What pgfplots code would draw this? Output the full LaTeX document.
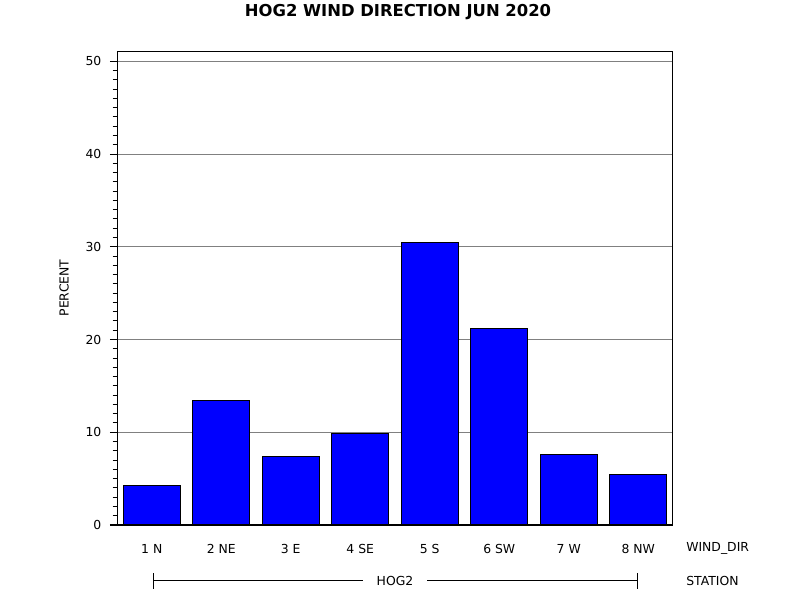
\documentclass[border=0pt]{standalone}
\usepackage{pgfplots}
\pgfplotsset{compat=1.18}
\usepackage{fontspec}
\setmainfont{DejaVu Sans}

\definecolor{gridgray}{RGB}{128,128,128}
\newcommand{\lblfont}{\fontsize{9.3}{11}\selectfont}

\begin{document}
\begin{tikzpicture}[x=1pt,y=1pt]
  % page = 800x600 px, 1px = 0.75pt
  \path[use as bounding box] (0,0) rectangle (600,450);

  \begin{axis}[
      at={(87.75pt,56.25pt)}, anchor=south west,
      scale only axis,
      width=417pt, height=354.75pt,
      xmin=0.5, xmax=8.5,
      ymin=0, ymax=51,
      ybar, bar width=42.4pt, bar shift=0pt,
      xtick={1,2,3,4,5,6,7,8},
      xticklabels={1 N, 2 NE, 3 E, 4 SE, 5 S, 6 SW, 7 W, 8 NW},
      major x tick style={draw=none},
      xticklabel style={yshift=-6pt, font=\lblfont},
      ytick={0,10,20,30,40,50},
      minor y tick num=9,
      ytick pos=left,
      tick align=outside,
      major tick length=5.25pt,
      minor tick length=3.2pt,
      tick style={black, line width=0.75pt},
      yticklabel style={xshift=-3pt, font=\lblfont},
      /pgf/number format/assume math mode=true,
      ymajorgrids=true,
      major grid style={gridgray, line width=0.75pt},
      axis line style={black, line width=0.75pt},
      clip=false,
    ]
    \addplot[fill=blue, draw=black, line width=0.75pt]
      coordinates {(1,4.3) (2,13.4) (3,7.4) (4,9.9) (5,30.5) (6,21.2) (7,7.6) (8,5.4)};
  \end{axis}

  % title
  \node[font=\bfseries\fontsize{12.3}{14}\selectfont] at (298.5,441) {HOG2 WIND DIRECTION JUN 2020};
  % y label
  \node[rotate=90, font=\lblfont] at (48,234) {PERCENT};
  % group labels
  \node[anchor=west, inner sep=0pt, font=\lblfont] at (514.5,39) {WIND\_DIR};
  \node[anchor=west, inner sep=0pt, font=\lblfont] at (514.5,14.25) {STATION};
  \draw[black, line width=0.75pt] (114.75,14.25) -- (272.25,14.25);
  \draw[black, line width=0.75pt] (320.25,14.25) -- (477.75,14.25);
  \draw[black, line width=0.75pt] (114.75,8.25) -- (114.75,20.25);
  \draw[black, line width=0.75pt] (477.75,8.25) -- (477.75,20.25);
  \node[font=\lblfont] at (296.25,14.25) {HOG2};
\end{tikzpicture}
\end{document}
